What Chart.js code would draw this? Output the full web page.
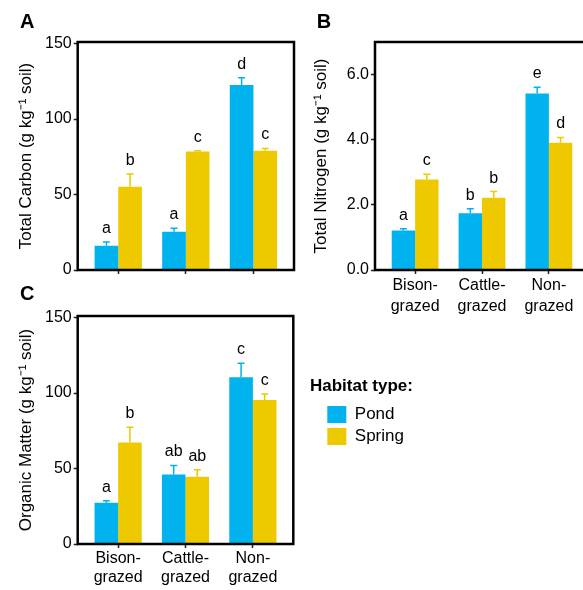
<!DOCTYPE html>
<html><head><meta charset="utf-8">
<script src="https://cdn.jsdelivr.net/npm/chart.js@4.4.0/dist/chart.umd.min.js"></script>
<style>
html,body{margin:0;padding:0;overflow:hidden;background:#fff;width:583px;height:590px;position:relative}
canvas{position:absolute}
#legTitle{position:absolute;left:310px;top:377px;font:bold 17px/1 "Liberation Sans", Arial, Helvetica, sans-serif;color:#000;white-space:nowrap}
</style></head><body>
<canvas id="cA" width="300" height="290" style="left:0;top:0"></canvas>
<canvas id="cB" width="300" height="320" style="left:300px;top:0"></canvas>
<canvas id="cC" width="583" height="310" style="left:0;top:280px"></canvas>
<div id="legTitle">Habitat type:</div>
<script>
// ---- data ----
const categories = [['Bison-','grazed'],['Cattle-','grazed'],['Non-','grazed']];
const seriesNames = ['Pond','Spring'];
const seriesColors = ['#00B2EE','#EEC900'];
const legendTitle = 'Habitat type:';

const carbonPond = [16.0, 25.3, 122.6];
const carbonPondErr = [2.5, 2.4, 4.8];
const carbonSpring = [55.2, 78.5, 79.0];
const carbonSpringErr = [8.4, 0.5, 1.5];
const carbonPondLetters = ['a','a','d'];
const carbonSpringLetters = ['b','c','c'];
const carbonTicks = [0, 50, 100, 150];
const carbonTickLabels = ['0','50','100','150'];

const nitrogenPond = [1.21, 1.74, 5.42];
const nitrogenPondErr = [0.06, 0.14, 0.19];
const nitrogenSpring = [2.78, 2.22, 3.91];
const nitrogenSpringErr = [0.16, 0.19, 0.16];
const nitrogenPondLetters = ['a','b','e'];
const nitrogenSpringLetters = ['c','b','d'];
const nitrogenTicks = [0, 2, 4, 6];
const nitrogenTickLabels = ['0.0','2.0','4.0','6.0'];

const organicPond = [27.3, 46.0, 110.5];
const organicPondErr = [1.3, 6.0, 9.2];
const organicSpring = [67.2, 44.5, 95.3];
const organicSpringErr = [10.1, 4.6, 4.0];
const organicPondLetters = ['a','ab','c'];
const organicSpringLetters = ['b','ab','c'];
const organicTicks = [0, 50, 100, 150];
const organicTickLabels = ['0','50','100','150'];

// ---- rendering ----
const FONT = '"Liberation Sans", Arial, Helvetica, sans-serif';
Chart.defaults.font.family = FONT;
Chart.defaults.color = '#000';
document.getElementById('legTitle').textContent = legendTitle;

const boxPlugin = {
  id: 'box',
  afterDraw(chart) {
    const {ctx, chartArea: a} = chart;
    ctx.save();
    ctx.strokeStyle = '#000';
    ctx.lineWidth = 2.5;
    ctx.strokeRect(a.left, a.top, a.right - a.left, a.bottom - a.top);
    ctx.restore();
  }
};

const errPlugin = {
  id: 'errbars',
  afterDatasetsDraw(chart, args, opts) {
    const ctx = chart.ctx, ys = chart.scales.y;
    chart.data.datasets.forEach((ds, i) => {
      const meta = chart.getDatasetMeta(i);
      meta.data.forEach((bar, j) => {
        const v = ds.data[j].y, e = opts.errors[i][j];
        const top = ys.getPixelForValue(v + e);
        ctx.save();
        ctx.strokeStyle = ds.backgroundColor;
        ctx.lineWidth = 1.5;
        ctx.beginPath();
        ctx.moveTo(bar.x, bar.y); ctx.lineTo(bar.x, top);
        ctx.moveTo(bar.x - 3.5, top); ctx.lineTo(bar.x + 3.5, top);
        ctx.stroke();
        ctx.fillStyle = '#000';
        ctx.font = '16px ' + FONT;
        ctx.textAlign = 'center';
        ctx.textBaseline = 'alphabetic';
        ctx.fillText(opts.letters[i][j], bar.x, top - 9);
        ctx.restore();
      });
    });
  }
};

function makePanel(id, p) {
  const datasets = [p.pond, p.spring].map((vals, k) => ({
    label: seriesNames[k],
    data: vals.map((v, i) => ({x: i + 1, y: v})),
    backgroundColor: seriesColors[k],
    borderColor: seriesColors[k],
    borderWidth: 0,
    categoryPercentage: 0.7,
    barPercentage: 1.0
  }));
  const scales = {
    x: {
      type: 'linear', min: 0.4, max: 3.6, offset: false,
      grid: {display: true, drawOnChartArea: false, drawTicks: true, tickLength: 4, tickWidth: 1.5, tickColor: '#222', offset: false},
      border: {display: false},
      afterBuildTicks: s => { s.ticks = categories.map((c, i) => ({value: i + 1})); },
      ticks: {
        callback: (v, i) => p.showX ? categories[i] : '',
        font: {size: 16, lineHeight: p.xlh}, color: '#000', padding: 1.5,
        maxRotation: 0, minRotation: 0, autoSkip: false
      },
      afterFit: s => { s.height = p.xh; }
    },
    y: {
      type: 'linear', min: 0, max: p.yMax,
      grid: {display: true, drawOnChartArea: false, tickLength: 4, tickWidth: 1.5, tickColor: '#222'},
      border: {display: false},
      afterBuildTicks: s => { s.ticks = p.yTicks.map(v => ({value: v})); },
      ticks: {callback: (v, i) => p.yTickLabels[i], font: {size: 16}, color: '#000', padding: 2},
      title: {display: true, text: p.yTitle, font: {size: 17}, color: '#000', padding: {top: p.ytPad, bottom: 0}},
      afterFit: s => { s.width = p.yw; }
    }
  };
  if (p.legend) {
    scales.yr = {
      type: 'linear', position: 'right', display: true,
      grid: {display: false}, border: {display: false}, ticks: {display: false},
      afterFit: s => { s.width = p.gapR; }
    };
  }
  return new Chart(document.getElementById(id), {
    type: 'bar',
    data: {datasets},
    options: {
      responsive: false, animation: false, events: [],
      devicePixelRatio: 1,
      layout: {padding: p.pad},
      scales,
      plugins: {
        title: {display: true, text: p.letter, align: 'start', color: '#000',
                font: {size: 20, weight: 'bold'}, padding: p.titlePad},
        legend: p.legend ? {
          display: true, position: 'right', align: 'start', maxWidth: p.legW,
          title: {display: true, text: '', position: 'start',
                  font: {size: 17, weight: 'bold'}, padding: {top: 100.5, bottom: 0}},
          labels: {boxWidth: 19, boxHeight: 17, padding: 5, color: '#000', font: {size: 17}}
        } : {display: false},
        tooltip: {enabled: false},
        errbars: {errors: p.errors, letters: p.letters}
      }
    },
    plugins: [errPlugin, boxPlugin]
  });
}

makePanel('cA', {
  letter: 'A', pond: carbonPond, spring: carbonSpring,
  errors: [carbonPondErr, carbonSpringErr], letters: [carbonPondLetters, carbonSpringLetters],
  yMax: 151, yTicks: carbonTicks, yTickLabels: carbonTickLabels,
  yTitle: 'Total Carbon (g kg\u207B\u00B9 soil)', showX: false,
  pad: {left: 20, right: 6, top: 0, bottom: 0}, titlePad: {top: 10.5, bottom: 7.5},
  yw: 57.7, ytPad: -4.3, xh: 20, xlh: 1.15
});
makePanel('cB', {
  letter: 'B', pond: nitrogenPond, spring: nitrogenSpring,
  errors: [nitrogenPondErr, nitrogenSpringErr], letters: [nitrogenPondLetters, nitrogenSpringLetters],
  yMax: 7.0, yTicks: nitrogenTicks, yTickLabels: nitrogenTickLabels,
  yTitle: 'Total Nitrogen (g kg\u207B\u00B9 soil)', showX: true,
  pad: {left: 16.7, right: 11, top: 0, bottom: 0}, titlePad: {top: 10.5, bottom: 7.5},
  yw: 58.3, ytPad: -5.2, xh: 50, xlh: 1.3
});
makePanel('cC', {
  letter: 'C', pond: organicPond, spring: organicSpring,
  errors: [organicPondErr, organicSpringErr], letters: [organicPondLetters, organicSpringLetters],
  yMax: 151, yTicks: organicTicks, yTickLabels: organicTickLabels,
  yTitle: 'Organic Matter (g kg\u207B\u00B9 soil)', showX: true,
  pad: {left: 20, right: 177.3, top: 0, bottom: 0}, titlePad: {top: 2.5, bottom: 9.5},
  yw: 57.7, ytPad: -4.3, xh: 46, xlh: 1.15,
  legend: true, gapR: 29, legW: 83.4
});
</script>
</body></html>
